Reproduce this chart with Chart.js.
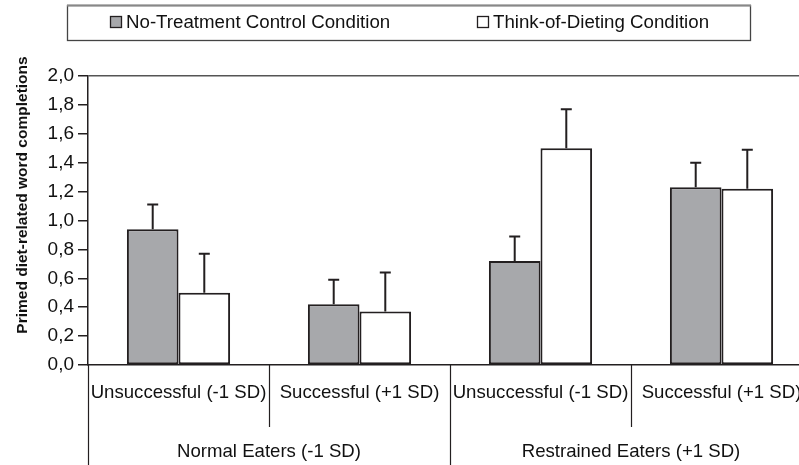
<!DOCTYPE html>
<html>
<head>
<meta charset="utf-8">
<script src="https://cdn.jsdelivr.net/npm/chart.js@4/dist/chart.umd.min.js"></script>
<style>
  html, body { margin: 0; padding: 0; background: #fff; overflow: hidden; }
  #wrap { width: 799px; height: 465px; overflow: hidden; }
</style>
</head>
<body>
<div id="wrap"><canvas id="myChart" width="830" height="465"></canvas></div>
<script>
var subLabels = ['Unsuccessful (-1 SD)', 'Successful (+1 SD)', 'Unsuccessful (-1 SD)', 'Successful (+1 SD)'];
var groupLabels = ['Normal Eaters (-1 SD)', 'Restrained Eaters (+1 SD)'];
var seriesNames = ['No-Treatment Control Condition', 'Think-of-Dieting Condition'];
var yTitle = 'Primed diet-related word completions';
var controlValues = [0.94, 0.42, 0.72, 1.23];
var controlErrors = [0.17, 0.17, 0.17, 0.17];
var dietingValues = [0.50, 0.37, 1.50, 1.22];
var dietingErrors = [0.27, 0.27, 0.27, 0.27];

var ink = '#231f20';
var font = '"Liberation Sans", Arial, sans-serif';

// error bars on top of each bar
var errorBars = {
    id: 'errorBars',
    afterDatasetsDraw: function(chart) {
        var ctx = chart.ctx;
        var y = chart.scales.y;
        ctx.save();
        ctx.strokeStyle = ink;
        ctx.lineWidth = 2;
        chart.data.datasets.forEach(function(ds, d) {
            var meta = chart.getDatasetMeta(d);
            meta.data.forEach(function(bar, i) {
                var top = y.getPixelForValue(ds.data[i] + ds.errors[i]);
                ctx.beginPath();
                ctx.moveTo(bar.x, bar.y);
                ctx.lineTo(bar.x, top);
                ctx.moveTo(bar.x - 5.5, top);
                ctx.lineTo(bar.x + 5.5, top);
                ctx.stroke();
            });
        });
        ctx.restore();
    }
};

// separators between the category labels, y title and the boxed legend
var decorations = {
    id: 'decorations',
    afterDraw: function(chart) {
        var ctx = chart.ctx;
        var xs = chart.scales.x;
        var area = chart.chartArea;
        var half = (xs.getPixelForValue(1) - xs.getPixelForValue(0)) / 2;
        ctx.save();
        ctx.strokeStyle = ink;
        ctx.lineWidth = 1.2;
        for (var i = 0; i <= subLabels.length; i++) {
            var px = Math.round(xs.getPixelForValue(0) - half + i * 2 * half) + 0.5;
            var bottom = (i % 2 === 0) ? chart.height : area.bottom + 62;
            ctx.beginPath();
            ctx.moveTo(px, area.bottom);
            ctx.lineTo(px, bottom);
            ctx.stroke();
        }

        // y axis title
        ctx.save();
        ctx.translate(23, 195);
        ctx.rotate(-Math.PI / 2);
        ctx.font = 'bold 15.5px ' + font;
        ctx.fillStyle = '#111';
        ctx.textAlign = 'center';
        ctx.textBaseline = 'middle';
        ctx.fillText(yTitle, 0, 0);
        ctx.restore();

        // legend box
        ctx.strokeStyle = '#444';
        ctx.lineWidth = 1.3;
        ctx.strokeRect(67.5, 5.5, 683, 35);
        ctx.strokeStyle = '#888';
        ctx.lineWidth = 2;
        ctx.beginPath();
        ctx.moveTo(67, 5.5);
        ctx.lineTo(751, 5.5);
        ctx.stroke();

        var itemX = [110, 477];
        ctx.font = '18.7px ' + font;
        ctx.textBaseline = 'middle';
        chart.data.datasets.forEach(function(ds, d) {
            ctx.fillStyle = ds.backgroundColor;
            ctx.fillRect(itemX[d], 16, 11, 11);
            ctx.strokeStyle = ink;
            ctx.lineWidth = 1.3;
            ctx.strokeRect(itemX[d] + 0.5, 16.5, 11, 11);
            ctx.fillStyle = '#111';
            ctx.fillText(ds.label, itemX[d] + 16, 23);
        });
        ctx.restore();
    }
};

var ctx = document.getElementById('myChart').getContext('2d');
var chart = new Chart(ctx, {
    type: 'bar',
    data: {
        labels: subLabels,
        datasets: [{
            label: seriesNames[0],
            data: controlValues,
            errors: controlErrors,
            backgroundColor: '#a7a8ab',
            borderColor: ink,
            borderWidth: 2,
            borderSkipped: false
        }, {
            label: seriesNames[1],
            data: dietingValues,
            errors: dietingErrors,
            backgroundColor: '#ffffff',
            borderColor: ink,
            borderWidth: 2,
            borderSkipped: false
        }]
    },
    options: {
        responsive: false,
        animation: false,
        layout: { padding: { top: 76, left: 8, right: 18, bottom: 0 } },
        categoryPercentage: 0.57,
        barPercentage: 1.0,
        plugins: {
            legend: { display: false },
            tooltip: { enabled: false }
        },
        scales: {
            x: {
                grid: { display: false },
                border: { display: true, color: ink, width: 1.5 },
                ticks: { color: '#111', font: { family: font, size: 18.6 }, padding: 9, maxRotation: 0, autoSkip: false },
                afterFit: function(s) { s.height = 60; }
            },
            x2: {
                type: 'category',
                labels: groupLabels,
                position: 'bottom',
                offset: true,
                grid: { display: false },
                border: { display: false },
                ticks: { color: '#111', font: { family: font, size: 18.6 }, padding: 8, maxRotation: 0 },
                afterFit: function(s) { s.height = 40; }
            },
            y: {
                min: 0,
                max: 2,
                ticks: {
                    stepSize: 0.2,
                    padding: 4,
                    color: '#111',
                    font: { family: font, size: 19 },
                    callback: function(v) { return v.toFixed(1).replace('.', ','); }
                },
                grid: {
                    drawOnChartArea: true,
                    color: function(c) { return c.tick && Math.abs(c.tick.value - 2) < 1e-6 ? '#555' : 'rgba(0,0,0,0)'; },
                    lineWidth: 1.5,
                    tickColor: ink,
                    tickLength: 10
                },
                border: { display: true, color: ink, width: 1.5 },
                afterFit: function(s) { s.width = 80; }
            }
        }
    },
    plugins: [errorBars, decorations]
});
</script>
</body>
</html>
